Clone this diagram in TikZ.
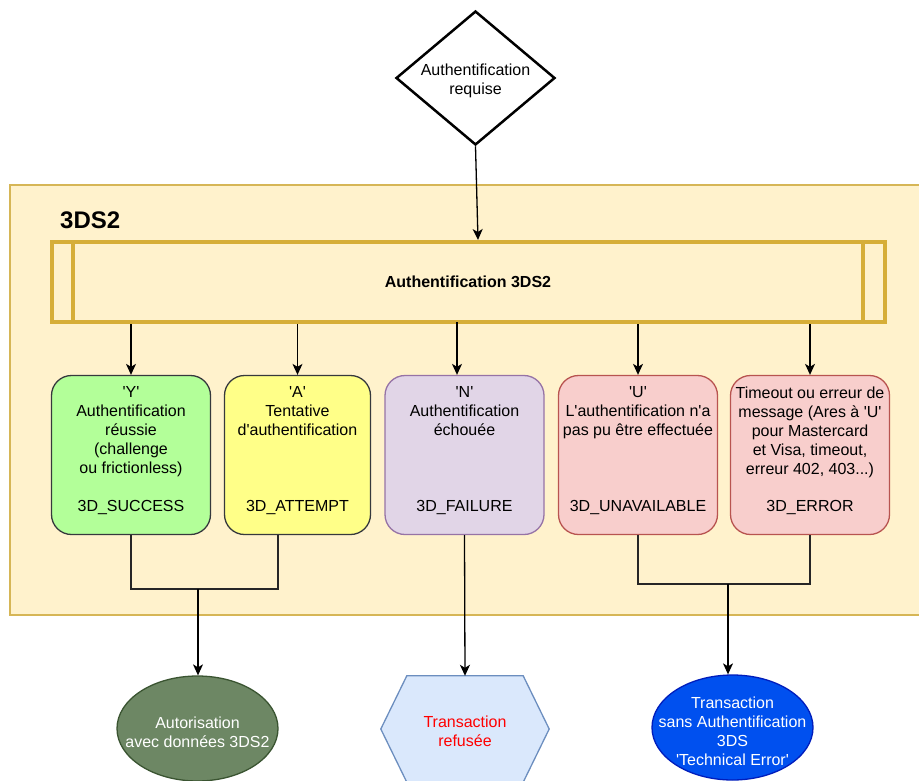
\documentclass[tikz,border=0pt]{standalone}
\usepackage{fontspec}
\setmainfont{Liberation Sans}[Ligatures=TeXOff]
\usetikzlibrary{shapes.geometric,arrows.meta,calc}
\definecolor{contfill}{HTML}{FFF2CC}
\definecolor{contline}{HTML}{D6B656}
\definecolor{procline}{HTML}{D6AE38}
\definecolor{gfill}{HTML}{B3FF99}
\definecolor{yfill}{HTML}{FFFF88}
\definecolor{dkline}{HTML}{36393D}
\definecolor{pfill}{HTML}{E1D5E7}
\definecolor{pline}{HTML}{9673A6}
\definecolor{rfill}{HTML}{F8CECC}
\definecolor{rline}{HTML}{B85450}
\definecolor{ofill}{HTML}{6D8764}
\definecolor{oline}{HTML}{3A5431}
\definecolor{hfill}{HTML}{DAE8FC}
\definecolor{hline}{HTML}{6C8EBF}
\definecolor{bfill}{HTML}{0050EF}
\definecolor{bline}{HTML}{001DBC}
\begin{document}
\begin{tikzpicture}[x=1pt,y=-1pt,
  font=\fontsize{16}{19}\selectfont,
  resbox/.style={draw, rounded corners=20pt, minimum width=159pt, minimum height=159pt, line width=1.3pt, inner sep=0pt},
  toptxt/.style={anchor=north, align=center, inner sep=0pt},
  codetxt/.style={anchor=base, inner sep=0pt},
  arr/.style={-{Stealth[length=11pt,width=10pt,inset=3pt]}, line width=1.3pt},
  ln/.style={line width=1.3pt, draw=black!85},
  endell/.style={ellipse, draw, line width=1.3pt, minimum width=161pt, minimum height=105pt, inner sep=0pt},
  endtxt/.style={align=center, inner sep=0pt, text=white}
]
\useasboundingbox (0,0) rectangle (919,780);

% container
\node[draw=contline, fill=contfill, line width=2pt, anchor=north west, minimum width=925pt, minimum height=430pt, inner sep=0pt] (cont) at (9,184) {};
\node[anchor=base west, inner sep=0pt, font=\fontsize{24}{28}\selectfont\bfseries] (lbl) at (60,228) {3DS2};

% decision
\node[diamond, draw, fill=white, line width=2.5pt, minimum width=159pt, minimum height=134pt, inner sep=0pt] (dia) at (475.5,78) {};
\node[align=center, inner sep=0pt] (diat) at (475.5,81) {Authentification\\requise};

% process
\node[draw=procline, line width=4pt, minimum width=833pt, minimum height=80pt, inner sep=0pt] (proc) at (468,282) {\bfseries Authentification 3DS2};
\draw[procline, line width=4pt] ($(proc.north west)+(23.4,0)$) -- ($(proc.south west)+(23.4,0)$);
\draw[procline, line width=4pt] ($(proc.north east)+(-23.7,0)$) -- ($(proc.south east)+(-23.7,0)$);

% result boxes
\node[resbox, fill=gfill, draw=dkline] (y) at (131,455) {};
\node[resbox, fill=yfill, draw=dkline, minimum width=146pt] (a) at (297.5,455) {};
\node[resbox, fill=pfill, draw=pline] (n) at (464.5,455) {};
\node[resbox, fill=rfill, draw=rline] (u) at (638,455) {};
\node[resbox, fill=rfill, draw=rline] (e) at (810,455) {};

\node[toptxt] (yt) at (131,386.5) {'Y'\\Authentification\\réussie\\(challenge\\ou frictionless)};
\node[toptxt] (at) at (297.5,386.5) {'A'\\Tentative\\d'authentification};
\node[toptxt] (nt) at (464.5,386.5) {'N'\\Authentification\\échouée};
\node[toptxt] (ut) at (638,386.5) {'U'\\L'authentification n'a\\pas pu être effectuée};
\node[toptxt] (et) at (810,386.5) {Timeout ou erreur de\\message (Ares à 'U'\\pour Mastercard\\et Visa, timeout,\\erreur 402, 403...)};

\node[codetxt] (yc) at (131,511) {3D\_SUCCESS};
\node[codetxt] (ac) at (297.5,511) {3D\_ATTEMPT};
\node[codetxt] (nc) at (464.5,511) {3D\_FAILURE};
\node[codetxt] (uc) at (638,511) {3D\_UNAVAILABLE};
\node[codetxt] (ec) at (810,511) {3D\_ERROR};

% end nodes
\node[endell, fill=ofill, draw=oline] (auto) at (197.5,728.5) {};
\node[endtxt] (autot) at (197.5,732) {Autorisation\\avec données 3DS2};
\node[endell, fill=bfill, draw=bline] (tse) at (732.5,727.5) {};
\node[endtxt] (tset) at (732.5,731) {Transaction\\sans Authentification\\3DS\\'Technical Error'};
\node[minimum width=168pt, minimum height=106pt, inner sep=0pt] (hex) at (465,729) {};
\draw[fill=hfill, draw=hline, line width=1.3pt] (hex.west) -- ($(hex.north west)+(26,0)$) -- ($(hex.north east)+(-26,0)$) -- (hex.east) -- ($(hex.south east)+(-26,0)$) -- ($(hex.south west)+(26,0)$) -- cycle;
\node[align=center, text=red, inner sep=0pt] (hext) at (465,731) {Transaction\\refusée};

% connectors
\coordinate (pin) at (478,240);
\draw[arr] (dia.south) -- (pin);
\draw[arr] (proc.south -| y.north) -- (y.north);
\draw[arr] (proc.south -| a.north) -- (a.north);
\coordinate (pn) at (457,322);
\draw[arr] (pn) -- (pn |- n.north);
\draw[arr] (proc.south -| u.north) -- (u.north);
\draw[arr] (proc.south -| e.north) -- (e.north);

\coordinate (abot) at ($(a.south)+(-19.5,0)$);
\coordinate (jl) at (198,589);
\draw[ln] (y.south) |- (jl) -| (abot);
\draw[arr] (jl) -- (jl |- auto.north);

\coordinate (jr) at (728,584);
\draw[ln] (u.south) |- (jr) -| (e.south);
\draw[arr] (jr) -- (jr |- tse.north);

\draw[arr] (n.south) -- (hex.north);
\end{tikzpicture}
\end{document}
